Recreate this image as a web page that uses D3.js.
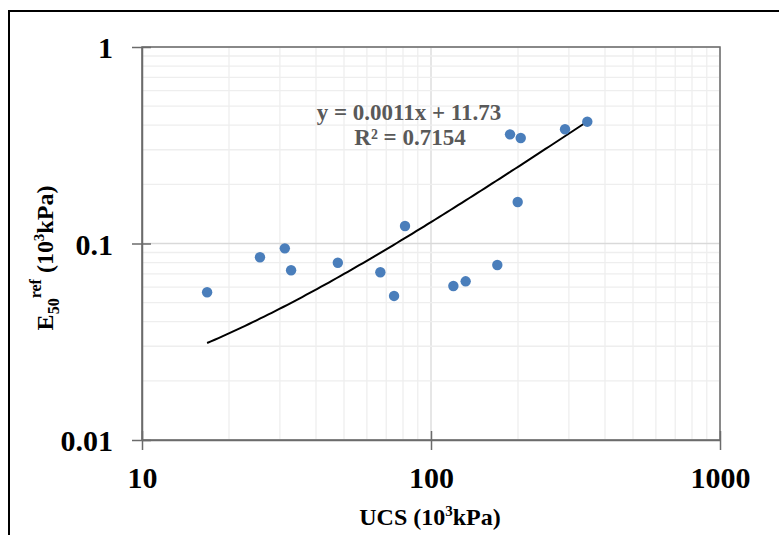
<!DOCTYPE html>
<html>
<head>
<meta charset="utf-8">
<script src="https://cdn.jsdelivr.net/npm/d3@7"></script>
<style>
  body { margin: 0; background: #fff; }
  text { font-family: "Liberation Serif", "Times New Roman", serif; font-weight: bold; }
</style>
</head>
<body>
<div id="chart"></div>
<script>
// valores
const ucs = [16.8, 25.6, 31.2, 32.8, 47.6, 66.8, 74.5, 81.3, 119.5, 131.8, 169.6, 199.5, 187.7, 204.4, 290.9, 347.4];
const e50 = [0.0565, 0.0851, 0.0945, 0.0731, 0.0798, 0.0714, 0.0541, 0.1228, 0.0608, 0.0642, 0.0777, 0.1626, 0.3594, 0.3442, 0.3814, 0.4168];

const xTicks = [10, 100, 1000];
const xTickLabels = ["10", "100", "1000"];
const yTicks = [0.01, 0.1, 1];
const yTickLabels = ["0.01", "0.1", "1"];

// línea de tendencia (lineal, dibujada en ejes log)
const trendSlope = 0.00117;
const trendIntercept = 0.0115;
const trendLabel = ["y = 0.0011x + 11.73", "R² = 0.7154"];

const width = 779, height = 535;
const plotL = 142, plotR = 720, plotT = 47, plotB = 440;

const svg = d3.select("#chart").append("svg")
  .attr("width", width)
  .attr("height", height);

// marco exterior
svg.append("rect")
  .attr("x", 9).attr("y", 11)
  .attr("width", 800).attr("height", 560)
  .attr("fill", "none")
  .attr("stroke", "#000")
  .attr("stroke-width", 2);

const x = d3.scaleLog().domain([10, 1000]).range([plotL, plotR]);
const y = d3.scaleLog().domain([0.01, 1]).range([plotB, plotT]);

// rejilla
const grid = svg.append("g");
grid.selectAll(".gx")
  .data(x.ticks())
  .enter().append("line")
  .attr("x1", d => x(d)).attr("x2", d => x(d))
  .attr("y1", plotT).attr("y2", plotB)
  .attr("stroke", d => xTicks.includes(d) ? "#d9d9d9" : "#eeeeee")
  .attr("stroke-width", 1.3);
grid.selectAll(".gy")
  .data(y.ticks())
  .enter().append("line")
  .attr("x1", plotL).attr("x2", plotR)
  .attr("y1", d => y(d)).attr("y2", d => y(d))
  .attr("stroke", d => yTicks.includes(d) ? "#d9d9d9" : "#eeeeee")
  .attr("stroke-width", 1.3);

// borde del área de trazado
svg.append("rect")
  .attr("x", plotL).attr("y", plotT)
  .attr("width", plotR - plotL).attr("height", plotB - plotT)
  .attr("fill", "none")
  .attr("stroke", "#6b6b6b")
  .attr("stroke-width", 1.5);

// ejes
const xAxis = svg.append("g")
  .attr("transform", `translate(0,${plotB})`)
  .call(d3.axisBottom(x).tickValues(xTicks).tickFormat((d, i) => xTickLabels[i]).tickSizeOuter(0));
xAxis.select(".domain").attr("stroke", "#6b6b6b").attr("stroke-width", 1.5);
xAxis.selectAll(".tick line").attr("y1", -9).attr("y2", 10).attr("stroke", "#6b6b6b").attr("stroke-width", 1.5);
xAxis.selectAll(".tick text")
  .attr("y", 48).attr("dy", 0)
  .attr("fill", "#000")
  .style("font-size", "30px");

const yAxis = svg.append("g")
  .attr("transform", `translate(${plotL},0)`)
  .call(d3.axisLeft(y).tickValues(yTicks).tickFormat((d, i) => yTickLabels[i]).tickSizeOuter(0));
yAxis.select(".domain").attr("stroke", "#6b6b6b").attr("stroke-width", 1.5);
yAxis.selectAll(".tick line").attr("x1", -10).attr("x2", 9).attr("stroke", "#6b6b6b").attr("stroke-width", 1.5);
yAxis.selectAll(".tick text")
  .attr("x", -29).attr("dy", "0.35em")
  .attr("fill", "#000")
  .style("font-size", "30px");

// línea de tendencia
const xMin = d3.min(ucs), xMax = d3.max(ucs);
const trendX = d3.range(0, 101).map(i => xMin * Math.pow(xMax / xMin, i / 100));
const line = d3.line()
  .x(d => x(d))
  .y(d => y(trendSlope * d + trendIntercept));
svg.append("path")
  .datum(trendX)
  .attr("d", line)
  .attr("fill", "none")
  .attr("stroke", "#000")
  .attr("stroke-width", 2);

// puntos
svg.append("g").selectAll("circle")
  .data(ucs.map((d, i) => [d, e50[i]]))
  .enter().append("circle")
  .attr("cx", d => x(d[0]))
  .attr("cy", d => y(d[1]))
  .attr("r", 5.2)
  .attr("fill", "#4a7ebb");

// ecuación
const eq = svg.append("text")
  .attr("text-anchor", "middle")
  .attr("fill", "#595959")
  .style("font-size", "23px");
eq.append("tspan").attr("x", 409).attr("y", 120).text(trendLabel[0]);
eq.append("tspan").attr("x", 410).attr("y", 145).text(trendLabel[1]);

// título eje x
const xt = svg.append("text")
  .attr("x", 430).attr("y", 525)
  .attr("text-anchor", "middle")
  .attr("fill", "#000")
  .style("font-size", "24px");
xt.append("tspan").text("UCS (10");
xt.append("tspan").attr("dy", -9).style("font-size", "15px").text("3");
xt.append("tspan").attr("dy", 9).text("kPa)");

// título eje y
const yt = svg.append("text")
  .attr("transform", "translate(53,258) rotate(-90)")
  .attr("text-anchor", "middle")
  .attr("fill", "#000")
  .style("font-size", "24px");
yt.append("tspan").text("E");
yt.append("tspan").attr("dy", 6).style("font-size", "16px").text("50");
yt.append("tspan").attr("dy", -18).style("font-size", "16px").text("ref");
yt.append("tspan").attr("dy", 12).text(" (10");
yt.append("tspan").attr("dy", -9).style("font-size", "15px").text("3");
yt.append("tspan").attr("dy", 9).text("kPa)");
</script>
</body>
</html>
